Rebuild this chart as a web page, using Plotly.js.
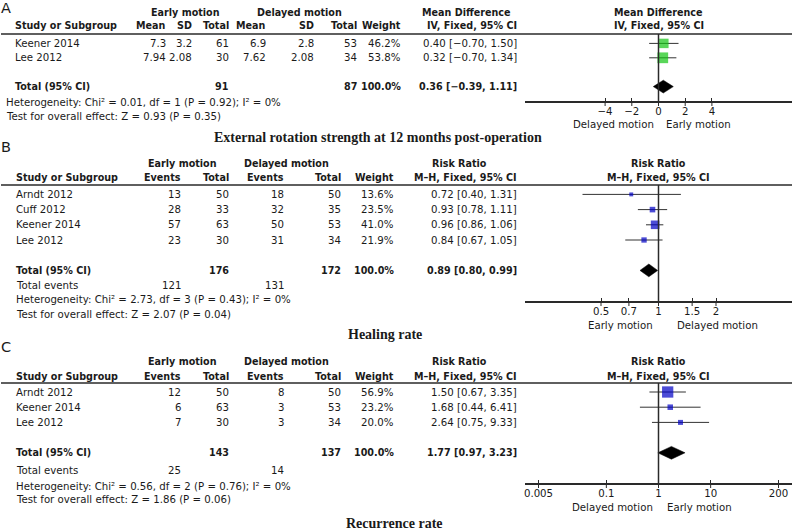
<!DOCTYPE html>
<html><head><meta charset="utf-8">
<script src="https://cdn.plot.ly/plotly-3.0.1.min.js"></script>
<style>html,body{margin:0;padding:0;background:#fff}#chart{width:800px;height:531px}</style>
</head><body><div id="chart"></div>
<script>
// ================= DATA =================
// Panel A: External rotation strength at 12 months (Mean Difference, IV, Fixed)
const aStudies   = ['Keener 2014', 'Lee 2012'];
const aEarlyMean = [7.3, 7.94];
const aEarlySD   = [3.2, 2.08];
const aEarlyN    = [61, 30];
const aDelayMean = [6.9, 7.62];
const aDelaySD   = [2.8, 2.08];
const aDelayN    = [53, 34];
const aWeight    = [46.2, 53.8];
const aEst       = [0.40, 0.32];
const aLo        = [-0.70, -0.70];
const aHi        = [1.50, 1.34];
const aTotalN    = [91, 87];
const aTotal     = [0.36, -0.39, 1.11];   // estimate, lower, upper
const aHet       = 'Heterogeneity: Chi² = 0.01, df = 1 (P = 0.92); I² = 0%';
const aTest      = 'Test for overall effect: Z = 0.93 (P = 0.35)';
const aTicks     = [-4, -2, 0, 2, 4];
const aTitle     = 'External rotation strength at 12 months post-operation';

// Panel B: Healing rate (Risk Ratio, M-H, Fixed)
const bStudies   = ['Arndt 2012', 'Cuff 2012', 'Keener 2014', 'Lee 2012'];
const bEarlyEv   = [13, 28, 57, 23];
const bEarlyN    = [50, 33, 63, 30];
const bDelayEv   = [18, 32, 50, 31];
const bDelayN    = [50, 35, 53, 34];
const bWeight    = [13.6, 23.5, 41.0, 21.9];
const bEst       = [0.72, 0.93, 0.96, 0.84];
const bLo        = [0.40, 0.78, 0.86, 0.67];
const bHi        = [1.31, 1.11, 1.06, 1.05];
const bTotalN    = [176, 172];
const bTotalEv   = [121, 131];
const bTotal     = [0.89, 0.80, 0.99];
const bHet       = 'Heterogeneity: Chi² = 2.73, df = 3 (P = 0.43); I² = 0%';
const bTest      = 'Test for overall effect: Z = 2.07 (P = 0.04)';
const bTicks     = [0.5, 0.7, 1, 1.5, 2];
const bTitle     = 'Healing rate';

// Panel C: Recurrence rate (Risk Ratio, M-H, Fixed)
const cStudies   = ['Arndt 2012', 'Keener 2014', 'Lee 2012'];
const cEarlyEv   = [12, 6, 7];
const cEarlyN    = [50, 63, 30];
const cDelayEv   = [8, 3, 3];
const cDelayN    = [50, 53, 34];
const cWeight    = [56.9, 23.2, 20.0];
const cEst       = [1.50, 1.68, 2.64];
const cLo        = [0.67, 0.44, 0.75];
const cHi        = [3.35, 6.41, 9.33];
const cTotalN    = [143, 137];
const cTotalEv   = [25, 14];
const cTotal     = [1.77, 0.97, 3.23];
const cHet       = 'Heterogeneity: Chi² = 0.56, df = 2 (P = 0.76); I² = 0%';
const cTest      = 'Test for overall effect: Z = 1.86 (P = 0.06)';
const cTicks     = [0.005, 0.1, 1, 10, 200];
const cTitle     = 'Recurrence rate';

// ================= STYLE / LAYOUT =================
const W = 800, H = 531;
const px = x => x / W;
const py = y => 1 - y / H;
const FONT = 'DejaVu Sans, Verdana, sans-serif';
const SERIF = 'Liberation Serif, Times New Roman, serif';
const FS = 10.2;
const FSB = 9.6;
const TXT = '#1a1a1a';
const LINE = '#2a2a2a';
const GREEN = '#12c412';
const BLUE = '#0000c4';
const PLOT_L = 525, PLOT_R = 792;

const minus = s => s.replace(/-/g, '\u2212');
const f2 = v => minus(v.toFixed(2));
const ci = (e, l, h) => f2(e) + ' [' + f2(l) + ', ' + f2(h) + ']';
const pct = w => w.toFixed(1) + '%';
const sq = w => 1.6 + 0.17 * w;

const annotations = [];
const shapes = [];
const traces = [];

function txt(x, y, text, o) {
  o = o || {};
  annotations.push({
    xref: 'paper', yref: o.yref || 'paper', x: px(x), y: o.yref ? y : py(y),
    text: o.bold ? '<b>' + text + '</b>' : text, showarrow: false,
    xanchor: o.anchor || 'left', yanchor: 'middle', borderpad: 0,
    font: {family: o.family || FONT, size: o.size || (o.bold ? FSB : FS), color: TXT}
  });
}

function hline(x0, x1, y) {
  shapes.push({type: 'line', xref: 'paper', yref: 'paper', x0: px(x0), x1: px(x1), y0: py(y), y1: py(y),
    line: {color: LINE, width: 1.5}});
}

function panel(cfg) {
  const ax = cfg.id === 1 ? '' : String(cfg.id);
  const xa = 'x' + ax, ya = 'y' + ax;
  const yref = ya;
  // letter
  txt(0, cfg.letterY, cfg.letter, {size: 14.5});
  // headers
  cfg.head1.forEach(h => txt(h[1], cfg.h1, h[0], {bold: true, anchor: 'center'}));
  txt(cfg.nameX, cfg.h2, 'Study or Subgroup', {bold: true});
  cfg.cols.forEach(c => txt(c[1], cfg.h2, c[0], {bold: true, anchor: 'right'}));
  txt(cfg.colW, cfg.h2, 'Weight', {bold: true, anchor: 'right'});
  txt(cfg.ciX, cfg.h2, cfg.ciHead, {bold: true, anchor: 'right'});
  txt(658.5, cfg.h1, cfg.plotHead1, {bold: true, anchor: 'center'});
  txt(658.5, cfg.h2, cfg.ciHead, {bold: true, anchor: 'center'});
  hline(1, PLOT_R, cfg.top);
  // rows
  const n = cfg.studies.length;
  cfg.studies.forEach((s, i) => {
    txt(cfg.nameX, i, s, {yref});
    cfg.rowVals.forEach((arr, k) => txt(cfg.cols[k][1], i, String(arr[i]), {yref, anchor: 'right'}));
    txt(cfg.colW, i, pct(cfg.weight[i]), {yref, anchor: 'right'});
    txt(cfg.ciX, i, ci(cfg.est[i], cfg.lo[i], cfg.hi[i]), {yref, anchor: 'right'});
  });
  const tr = n + 1;
  txt(cfg.nameX, tr, 'Total (95% CI)', {yref, bold: true});
  txt(cfg.totalCols[0], tr, String(cfg.totalN[0]), {yref, bold: true, anchor: 'right'});
  txt(cfg.totalCols[1], tr, String(cfg.totalN[1]), {yref, bold: true, anchor: 'right'});
  txt(cfg.colW, tr, '100.0%', {yref, bold: true, anchor: 'right'});
  txt(cfg.ciX, tr, ci(cfg.total[0], cfg.total[1], cfg.total[2]), {yref, bold: true, anchor: 'right'});
  // footers
  let fy = cfg.foot;
  if (cfg.totalEv) {
    txt(cfg.nameX, fy[0], 'Total events');
    txt(cfg.evCols[0], fy[0], String(cfg.totalEv[0]), {anchor: 'right'});
    txt(cfg.evCols[1], fy[0], String(cfg.totalEv[1]), {anchor: 'right'});
    fy = fy.slice(1);
  }
  txt(cfg.footX, fy[0], cfg.het);
  txt(cfg.footX, fy[1], cfg.test);
  // axis captions
  txt(cfg.capL[1], cfg.capY, cfg.capL[0], {anchor: 'center'});
  txt(cfg.capR[1], cfg.capY, cfg.capR[0], {anchor: 'center'});
  // title
  txt(cfg.titleX, cfg.titleY, cfg.title, {bold: true, anchor: 'center', family: SERIF, size: 14});
  // null line
  shapes.push({type: 'line', xref: xa, yref: ya + ' domain', x0: cfg.nullV, x1: cfg.nullV, y0: 0, y1: 1,
    line: {color: LINE, width: 1.5}});
  // lower half of the crossing tick marks
  cfg.ticks.forEach(t => shapes.push({type: 'line', xref: xa, yref: 'paper', x0: t, x1: t,
    y0: py(cfg.bottom), y1: py(cfg.bottom + 5), line: {color: LINE, width: 1}}));
  // study markers with CI whiskers
  traces.push({
    type: 'scatter', mode: 'markers', xaxis: xa, yaxis: ya,
    x: cfg.est, y: cfg.est.map((_, i) => i),
    marker: {symbol: 'square', size: cfg.weight.map(sq), color: cfg.color, line: {width: 0}},
    error_x: {type: 'data', symmetric: false,
      array: cfg.hi.map((h, i) => h - cfg.est[i]),
      arrayminus: cfg.lo.map((l, i) => cfg.est[i] - l),
      color: '#333', thickness: 1, width: 0},
    hoverinfo: 'skip', showlegend: false, cliponaxis: false
  });
  // pooled diamond
  const hh = 6.4 / cfg.pitch;
  traces.push({
    type: 'scatter', mode: 'lines', xaxis: xa, yaxis: ya, fill: 'toself',
    x: [cfg.total[1], cfg.total[0], cfg.total[2], cfg.total[0], cfg.total[1]],
    y: [tr, tr - hh, tr, tr + hh, tr],
    fillcolor: '#000', line: {width: 0.5, color: '#000'}, hoverinfo: 'skip', showlegend: false
  });
  return {
    ['xaxis' + ax]: Object.assign({
      domain: [px(PLOT_L), px(PLOT_R)], anchor: ya, showline: true, linecolor: LINE, linewidth: 1.5,
      showgrid: false, zeroline: false, ticks: 'inside', ticklen: 3, tickwidth: 1, tickcolor: LINE,
      tickvals: cfg.ticks, ticktext: cfg.ticks.map(t => minus(String(t))),
      tickfont: {family: FONT, size: FS, color: TXT}, fixedrange: true
    }, cfg.xopts),
    ['yaxis' + ax]: {
      domain: [py(cfg.bottom), py(cfg.top)],
      range: [(cfg.bottom - cfg.y0) / cfg.pitch, (cfg.top - cfg.y0) / cfg.pitch],
      visible: false, fixedrange: true
    }
  };
}

const layout = {
  width: W, height: H, margin: {l: 0, r: 0, t: 0, b: 0},
  paper_bgcolor: '#fff', plot_bgcolor: 'rgba(0,0,0,0)', showlegend: false
};

Object.assign(layout, panel({
  id: 1, letter: 'A', letterY: 8, h1: 12, h2: 26, top: 34, bottom: 101, y0: 43.4, pitch: 14.4,
  head1: [['Early motion', 185], ['Delayed motion', 299], ['Mean Difference', 466]],
  plotHead1: 'Mean Difference', ciHead: 'IV, Fixed, 95% CI', ciX: 518, nameX: 14,
  cols: [['Mean', 167], ['SD', 193], ['Total', 230], ['Mean', 267], ['SD', 315], ['Total', 358]],
  colW: 402, totalCols: [230, 358],
  rowVals: [aEarlyMean, aEarlySD, aEarlyN, aDelayMean, aDelaySD, aDelayN],
  studies: aStudies, weight: aWeight, est: aEst, lo: aLo, hi: aHi, totalN: aTotalN, total: aTotal,
  foot: [102, 117], footX: 5, het: aHet, test: aTest,
  capY: 124, capL: ['Delayed motion', 613], capR: ['Early motion', 698],
  title: aTitle, titleX: 378, titleY: 137, color: GREEN, nullV: 0, ticks: aTicks,
  xopts: {range: [-10, 10]}
}));
Object.assign(layout, panel({
  id: 2, letter: 'B', letterY: 147, h1: 163, h2: 178, top: 185, bottom: 301, y0: 194.4, pitch: 15.2,
  head1: [['Early motion', 182], ['Delayed motion', 286], ['Risk Ratio', 460]],
  plotHead1: 'Risk Ratio', ciHead: 'M\u2013H, Fixed, 95% CI', ciX: 518, nameX: 15,
  cols: [['Events', 182], ['Total', 230], ['Events', 285], ['Total', 342]],
  colW: 395, totalCols: [230, 342], evCols: [182, 285],
  rowVals: [bEarlyEv, bEarlyN, bDelayEv, bDelayN],
  studies: bStudies, weight: bWeight, est: bEst, lo: bLo, hi: bHi, totalN: bTotalN, total: bTotal,
  totalEv: bTotalEv, foot: [285, 299, 314], footX: 15, het: bHet, test: bTest,
  capY: 325, capL: ['Early motion', 620], capR: ['Delayed motion', 717],
  title: bTitle, titleX: 385, titleY: 334, color: BLUE, nullV: 1, ticks: bTicks,
  xopts: {type: 'log', range: [Math.log10(0.2), Math.log10(5)]}
}));
Object.assign(layout, panel({
  id: 3, letter: 'C', letterY: 347, h1: 361, h2: 376, top: 383, bottom: 483, y0: 392, pitch: 15.2,
  head1: [['Early motion', 182], ['Delayed motion', 286], ['Risk Ratio', 460]],
  plotHead1: 'Risk Ratio', ciHead: 'M\u2013H, Fixed, 95% CI', ciX: 518, nameX: 15,
  cols: [['Events', 182], ['Total', 230], ['Events', 285], ['Total', 342]],
  colW: 395, totalCols: [230, 342], evCols: [182, 285],
  rowVals: [cEarlyEv, cEarlyN, cDelayEv, cDelayN],
  studies: cStudies, weight: cWeight, est: cEst, lo: cLo, hi: cHi, totalN: cTotalN, total: cTotal,
  totalEv: cTotalEv, foot: [470, 486, 500], footX: 15, het: cHet, test: cTest,
  capY: 507, capL: ['Delayed motion', 612], capR: ['Early motion', 699],
  title: cTitle, titleX: 394, titleY: 523, color: BLUE, nullV: 1, ticks: cTicks,
  xopts: {type: 'log', range: [-2.56, 2.56]}
}));
layout.annotations = annotations;
layout.shapes = shapes;

Plotly.newPlot('chart', traces, layout, {displayModeBar: false, staticPlot: true});
</script>
</body></html>
